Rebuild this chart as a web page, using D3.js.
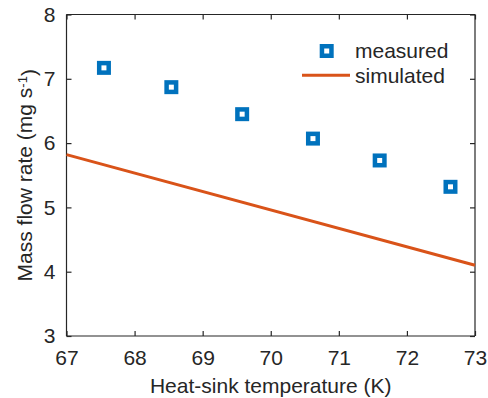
<!DOCTYPE html>
<html><head><meta charset="utf-8">
<script src="https://cdn.jsdelivr.net/npm/d3@7"></script>
<style>body{margin:0;background:#fff}svg{display:block}text{font-family:"Liberation Sans",Arial,sans-serif;fill:#262626}</style>
</head><body><svg id="c" width="488" height="398"></svg>
<script>
const measuredX = [67.55, 68.54, 69.58, 70.62, 71.60, 72.64];
const measuredY = [7.17, 6.87, 6.45, 6.07, 5.73, 5.32];
const simulatedX = [67, 73];
const simulatedY = [5.82, 4.10];
const xTicks = [67, 68, 69, 70, 71, 72, 73];
const yTicks = [3, 4, 5, 6, 7, 8];

const svg = d3.select("#c");
const L = 66.5, R = 475, T = 14.5, B = 336;
const FS = 21;
const x = d3.scaleLinear().domain([67, 73]).range([L, R]);
const y = d3.scaleLinear().domain([3, 8]).range([B, T]);
const ax = "#262626";

const xa = d3.axisBottom(x).tickValues(xTicks).tickSize(-5).tickPadding(14).tickFormat(d3.format("d"));
const ya = d3.axisLeft(y).tickValues(yTicks).tickSize(-5).tickPadding(11).tickFormat(d3.format("d"));
const xt = d3.axisTop(x).tickValues(xTicks).tickSize(-5).tickFormat("");
const yr = d3.axisRight(y).tickValues(yTicks).tickSize(-5).tickFormat("");

function style(g){
  g.selectAll("path").attr("stroke", ax).attr("stroke-width", 1.2);
  g.selectAll("line").attr("stroke", ax).attr("stroke-width", 1.2);
  g.selectAll("text").attr("font-size", FS).attr("fill", ax).style("font-family","Liberation Sans, Arial, sans-serif");
}
svg.append("g").attr("transform", `translate(0,${B})`).call(xa).call(g=>g.select(".domain").attr("d",`M${L},0H${R}`)).call(style);
svg.append("g").attr("transform", `translate(${L},0)`).call(ya).call(g=>g.select(".domain").attr("d",`M0,${T}V${B}`)).call(style);
svg.append("g").attr("transform", `translate(0,${T})`).call(xt).call(g=>g.select(".domain").attr("d",`M${L},0H${R}`)).call(style);
svg.append("g").attr("transform", `translate(${R},0)`).call(yr).call(g=>g.select(".domain").attr("d",`M0,${T}V${B}`)).call(style);

const line = d3.line().x(d=>x(d[0])).y(d=>y(d[1]));
svg.append("path").datum(simulatedX.map((v,i)=>[v, simulatedY[i]]))
  .attr("d", line).attr("fill","none").attr("stroke","#D95319").attr("stroke-width",3);

const s = 9.5;
svg.append("g").selectAll("rect").data(measuredX.map((v,i)=>[v, measuredY[i]])).join("rect")
  .attr("x", d=>x(d[0])-s/2).attr("y", d=>y(d[1])-s/2).attr("width", s).attr("height", s)
  .attr("fill","none").attr("stroke","#0072BD").attr("stroke-width",4.5);

// legend
svg.append("rect").attr("x", 326.7-s/2).attr("y", 51-s/2).attr("width", s).attr("height", s)
  .attr("fill","none").attr("stroke","#0072BD").attr("stroke-width",4.5);
svg.append("text").attr("x", 355).attr("y", 51).attr("dy","0.35em").attr("font-size",FS).text("measured");
svg.append("line").attr("x1",302).attr("x2",350).attr("y1",75.3).attr("y2",75.3).attr("stroke","#D95319").attr("stroke-width",3);
svg.append("text").attr("x", 355).attr("y", 75.3).attr("dy","0.35em").attr("font-size",FS).text("simulated");

svg.append("text").attr("x", (L+R)/2).attr("y", 386).attr("dy","0.35em").attr("text-anchor","middle").attr("font-size",FS).text("Heat-sink temperature (K)");
const yl = svg.append("text").attr("transform", `translate(25,${(T+B)/2}) rotate(-90)`).attr("text-anchor","middle").attr("dy","0.35em").attr("font-size",FS);
yl.append("tspan").text("Mass flow rate (mg s");
yl.append("tspan").attr("dy","-0.45em").attr("font-size",13).text("-1");
yl.append("tspan").attr("dy","0.45em").text(")");
</script></body></html>
